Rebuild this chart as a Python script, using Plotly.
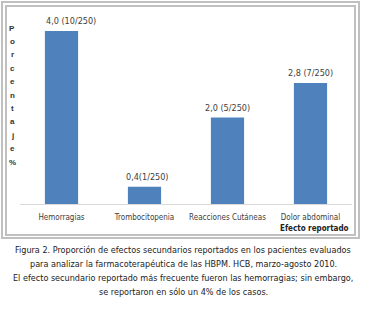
import plotly.graph_objects as go

# datos
efectos = ["Hemorragias", "Trombocitopenia", "Reacciones Cutáneas", "Dolor abdominal"]
porcentaje = [4.0, 0.4, 2.0, 2.8]
etiquetas = ["4,0 (10/250)", "0,4(1/250)", "2,0 (5/250)", "2,8 (7/250)"]
titulo_y = "Porcentaje%"
titulo_x = "Efecto reportado"
leyenda = [
    "Figura 2. Proporción de efectos secundarios reportados en los pacientes evaluados",
    "para analizar la farmacoterapéutica de las HBPM. HCB, marzo-agosto 2010.",
    "El efecto secundario reportado más frecuente fueron las hemorragias; sin embargo,",
    "se reportaron en sólo un 4% de los casos.",
]

W, H = 366, 310
L, R, T, B = 20, 14, 25, 106
pw, ph = W - L - R, H - T - B
NARROW = "DejaVu Sans Condensed, Liberation Sans, sans-serif"


def px_x(px):
    return (px - L) / pw


def px_y(py):
    return (H - B - py) / ph


fig = go.Figure(go.Bar(
    x=efectos, y=porcentaje,
    marker=dict(color="#4F81BD", line=dict(width=0)),
    hoverinfo="skip",
))

annotations = []
# etiquetas de datos
shifts = [9, 3, 0, 0]
for cat, val, lab, xs in zip(efectos, porcentaje, etiquetas, shifts):
    annotations.append(dict(
        x=cat, y=val, text=lab, showarrow=False, yanchor="bottom", xanchor="center",
        xshift=xs, yshift=3, font=dict(family=NARROW, size=9, color="#404040"),
    ))

# titulo vertical letra por letra
for i, ch in enumerate(titulo_y):
    annotations.append(dict(
        x=px_x(12), y=px_y(28 + 13.4 * i), xref="paper", yref="paper",
        xanchor="center", yanchor="middle",
        text="<b>%s</b>" % ch, showarrow=False,
        font=dict(family="Liberation Sans", size=8, color="#333333"),
    ))

annotations.append(dict(
    x=px_x(314), y=px_y(228), xref="paper", yref="paper",
    xanchor="center", yanchor="middle",
    text="<b>%s</b>" % titulo_x, showarrow=False,
    font=dict(family=NARROW, size=8, color="#222222"),
))

for i, linea in enumerate(leyenda):
    annotations.append(dict(
        x=px_x(183), y=px_y(250 + 14 * i), xref="paper", yref="paper",
        xanchor="center", yanchor="middle",
        text=linea, showarrow=False,
        font=dict(family=NARROW, size=9, color="#222222"),
    ))

shapes = []
for x0, y0, x1, y1 in [(2, 2, 359, 238), (6, 6, 355, 235)]:
    shapes.append(dict(
        type="rect", xref="paper", yref="paper",
        x0=px_x(x0), x1=px_x(x1), y0=px_y(y0), y1=px_y(y1),
        line=dict(color="#c0c0c0", width=2),
    ))

fig.update_layout(
    width=W, height=H,
    margin=dict(l=L, r=R, t=T, b=B),
    plot_bgcolor="white", paper_bgcolor="white",
    bargap=0.6, showlegend=False,
    annotations=annotations, shapes=shapes,
    xaxis=dict(
        range=[-0.5, 3.5], showline=True, linecolor="#d9d9d9", linewidth=1,
        ticks="outside", ticklen=5, tickcolor="white", showgrid=False,
        tickfont=dict(family=NARROW, size=8, color="#404040"),
    ),
    yaxis=dict(range=[0, 4.14], visible=False),
)

fig.write_html("out.html", config={"displayModeBar": False},
               post_script="document.body.style.margin='0';")
